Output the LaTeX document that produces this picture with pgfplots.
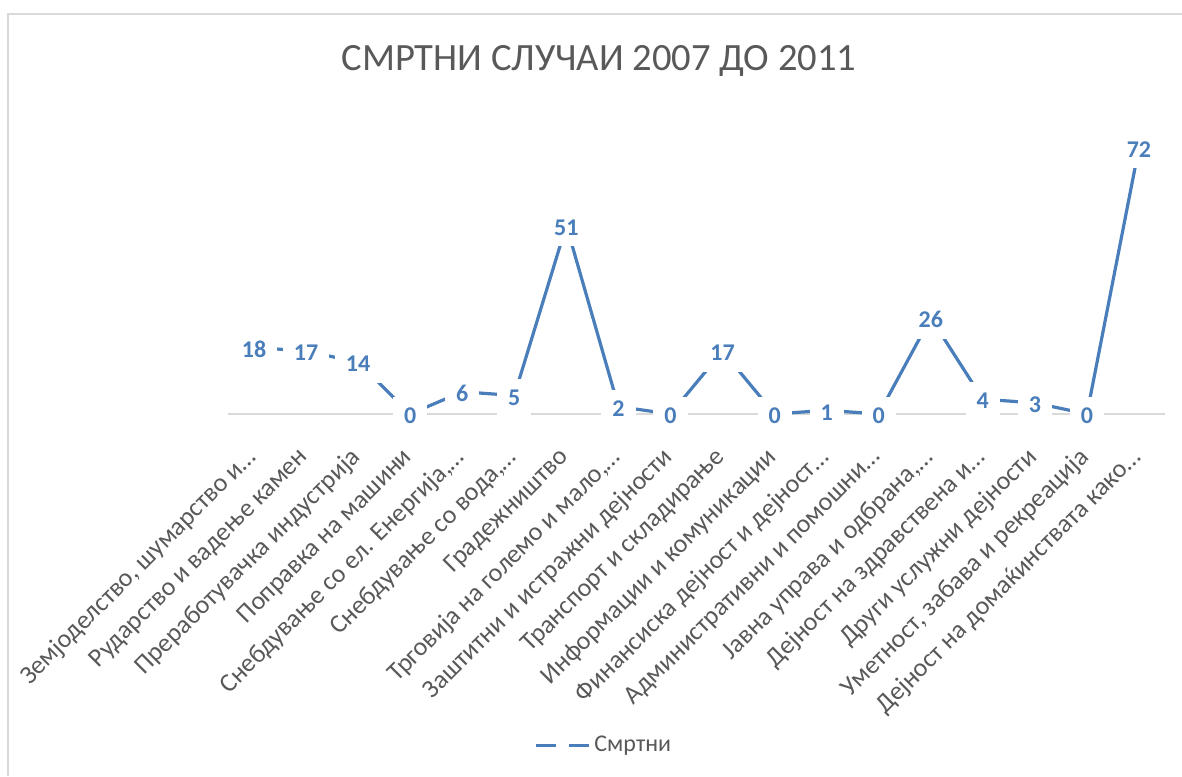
\documentclass[border=0pt]{standalone}
\usepackage{fontspec}
\setmainfont{Carlito}
\usepackage{pgfplots}
\pgfplotsset{compat=1.18}
\definecolor{ser}{HTML}{4A7EBB}
\definecolor{txt}{HTML}{595959}
\definecolor{grd}{HTML}{D9D9D9}
\newcommand{\tr}[1]{#1\hspace{-5pt}}
\begin{document}
\begin{tikzpicture}
\useasboundingbox (0,0) rectangle (591pt,388pt);
\draw[grd, line width=0.8pt] (4pt,0) -- (4pt,381pt) -- (591pt,381pt);
\node[text=txt, font=\fontsize{19.3}{22}\selectfont, anchor=base, inner sep=0pt] at (299.5pt,352.5pt) {СМРТНИ СЛУЧАИ 2007 ДО 2011};
\begin{axis}[
  at={(114pt,181pt)}, anchor=south west,
  scale only axis, width=468.5pt, height=148pt,
  xmin=-0.5, xmax=17.5, ymin=0, ymax=80,
  axis line style={draw=none},
  ytick=\empty,
  xtick={0,...,17},
  xticklabels={{\tr{Земјоделство, шумарство и…}},{Рударство и вадење камен},{Преработувачка индустрија},{Поправка на машини},{\tr{Снебдување со ел. Енергија,…}},{\tr{Снебдување со вода,…}},{Градежништво},{\tr{Трговија на големо и мало,…}},{Заштитни и истражни дејности},{Транспорт и складирање},{Информации и комуникации},{\tr{Финансиска дејност и дејност…}},{\tr{Административни и помошни…}},{\tr{Јавна управа и одбрана,…}},{\tr{Дејност на здравствена и…}},{Други услужни дејности},{Уметност, забава и рекреација},{\tr{Дејност на домаќинствата како…}}},
  major tick length=0pt,
  xticklabel style={rotate=45, anchor=east, inner sep=1pt, font=\fontsize{13}{15}\selectfont, text=txt},
  xticklabel shift=19pt,
  /pgf/number format/assume math mode=true,
  clip=false,
  legend style={at={(0.402,-1.12)}, anchor=center, draw=none, fill=none, font=\fontsize{12}{14}\selectfont, text=txt},
  legend image code/.code={\draw[#1, dash pattern=on 10pt off 6.5pt] (0pt,0pt) -- (26.5pt,0pt);},
]
\addplot[grd, line width=0.8pt, forget plot] coordinates {(-0.5,0) (17.5,0)};
\addplot[ser, line width=1.6pt, line join=round,
  nodes near coords={\pgfmathprintnumber{\pgfplotspointmeta}},
  every node near coord/.append style={anchor=center, yshift=-1pt, font=\bfseries\fontsize{12}{14}\selectfont, text=ser, fill=white, inner sep=5.5pt}]
  table[row sep=\\] {
x y\\
0 18\\
1 17\\
2 14\\
3 0\\
4 6\\
5 5\\
6 51\\
7 2\\
8 0\\
9 17\\
10 0\\
11 1\\
12 0\\
13 26\\
14 4\\
15 3\\
16 0\\
17 72\\
};
\addlegendentry{Смртни}
\end{axis}
\end{tikzpicture}
\end{document}
